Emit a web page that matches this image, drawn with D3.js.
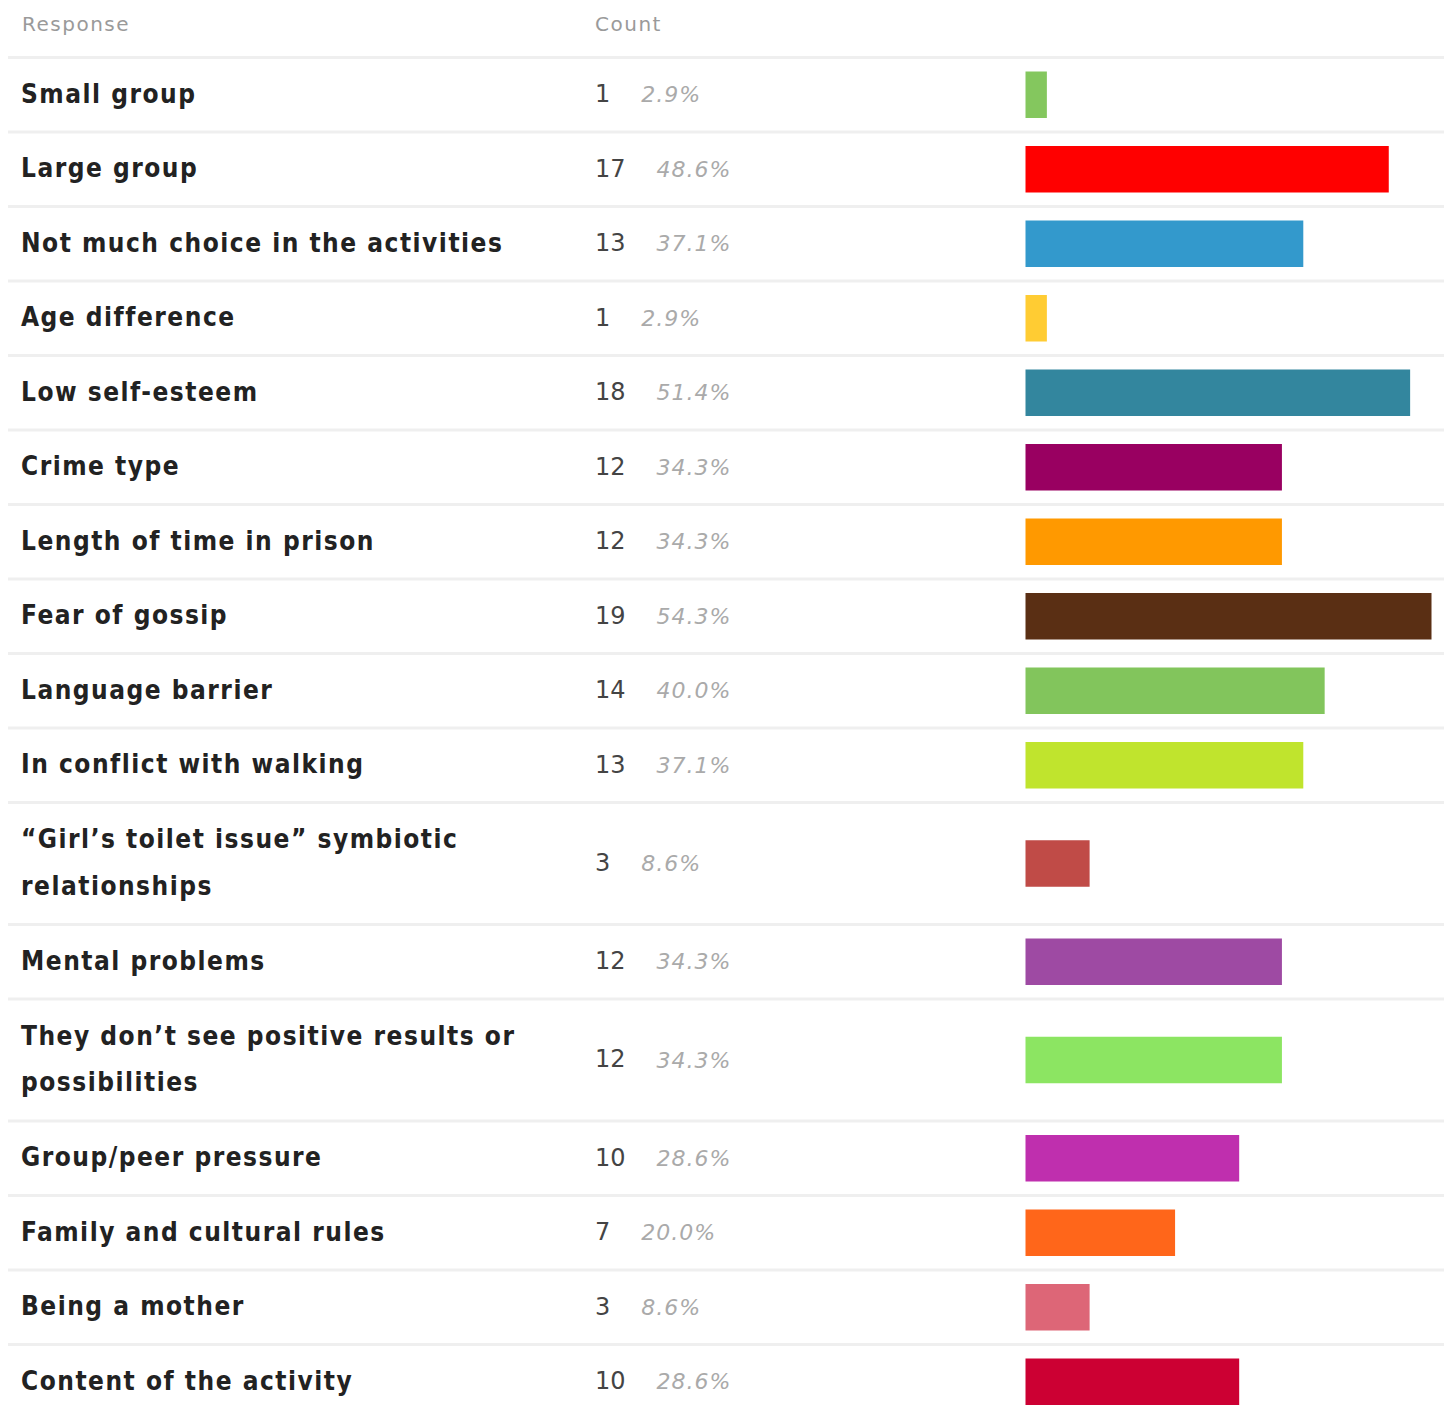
<!DOCTYPE html>
<html><head><meta charset="utf-8">
<script src="https://cdn.jsdelivr.net/npm/d3@7"></script>
<style>body{margin:0;background:#fff;} svg{display:block}</style>
</head><body><svg id="c"></svg>
<script>
const headers = ["Response", "Count"];
const labels = [
  "Small group",
  "Large group",
  "Not much choice in the activities",
  "Age difference",
  "Low self-esteem",
  "Crime type",
  "Length of time in prison",
  "Fear of gossip",
  "Language barrier",
  "In conflict with walking",
  "\u201cGirl\u2019s toilet issue\u201d symbiotic relationships",
  "Mental problems",
  "They don\u2019t see positive results or possibilities",
  "Group/peer pressure",
  "Family and cultural rules",
  "Being a mother",
  "Content of the activity"
];
const counts = [1, 17, 13, 1, 18, 12, 12, 19, 14, 13, 3, 12, 12, 10, 7, 3, 10];
const percents = ["2.9%", "48.6%", "37.1%", "2.9%", "51.4%", "34.3%", "34.3%", "54.3%", "40.0%", "37.1%", "8.6%", "34.3%", "34.3%", "28.6%", "20.0%", "8.6%", "28.6%"];
const colors = ["#84c75e", "#ff0000", "#3399cc", "#ffcc33", "#33869e", "#990061", "#ff9900", "#5a2f14", "#82c55c", "#c0e42d", "#c04b47", "#9e4aa3", "#8ce562", "#bf2fae", "#ff661a", "#dd6677", "#cc0033"];

const W = 1447, H = 1420;
const svg = d3.select("#c").attr("width", W).attr("height", H);

const labelX = 21, countX = 595, lineLeft = 8, lineRight = 1444;
const top0 = 57.5, rowH = 74.5, lineStep = 47.5, wrapW = 555;
const labFont = "'DejaVu Sans Condensed', 'DejaVu Sans', sans-serif";

// header
const hdr = d3.scaleOrdinal().domain(headers).range([labelX + 1, countX]);
svg.selectAll("text.hdr").data(headers).join("text")
  .attr("class", "hdr")
  .attr("x", d => hdr(d)).attr("y", 24).attr("dy", "0.35em")
  .attr("font-family", "'DejaVu Sans', sans-serif")
  .attr("font-size", 20).attr("letter-spacing", 1.5)
  .attr("fill", "#9a9a9a").text(d => d);

// labels with wrapping
const lab = svg.append("g");
const styleLab = t => t.attr("font-family", labFont)
  .attr("font-weight", "bold").attr("font-size", 26).attr("letter-spacing", 1.5);
const lines = labels.map(l => {
  const t = styleLab(lab.append("text"));
  const words = l.split(" ");
  const out = [];
  let cur = [];
  words.forEach(w => {
    const test = cur.concat([w]).join(" ");
    t.text(test);
    if (t.node().getComputedTextLength() > wrapW && cur.length) {
      out.push(cur.join(" "));
      cur = [w];
    } else cur.push(w);
  });
  if (cur.length) out.push(cur.join(" "));
  t.remove();
  return out;
});

const heights = lines.map(ls => rowH + lineStep * (ls.length - 1));
const bounds = [top0];
heights.forEach(h => bounds.push(bounds[bounds.length - 1] + h));
const yc = d3.scaleOrdinal().domain(labels).range(labels.map((d, i) => (bounds[i] + bounds[i + 1]) / 2));

// separators
svg.selectAll("line.sep").data(bounds).join("line")
  .attr("class", "sep")
  .attr("x1", lineLeft).attr("x2", lineRight)
  .attr("y1", d => d).attr("y2", d => d)
  .attr("stroke", "#efefef").attr("stroke-width", 3);

// label text
labels.forEach((l, i) => {
  const ls = lines[i];
  const t = styleLab(lab.append("text")).attr("fill", "#222");
  ls.forEach((s, j) => {
    t.append("tspan").attr("x", labelX)
      .attr("y", yc(l) - 1 + (j - (ls.length - 1) / 2) * 46.5)
      .attr("dy", "0.35em").text(s);
  });
});

// counts & percents
const cg = svg.append("g");
labels.forEach((l, i) => {
  const c = cg.append("text")
    .attr("x", countX).attr("y", yc(l) - 1).attr("dy", "0.35em")
    .attr("font-family", "'DejaVu Sans', sans-serif")
    .attr("font-size", 24).attr("fill", "#444").text(counts[i]);
  const cw = c.node().getComputedTextLength();
  cg.append("text")
    .attr("x", countX + cw + 31).attr("y", yc(l)).attr("dy", "0.35em")
    .attr("font-family", "'DejaVu Sans', sans-serif")
    .attr("font-style", "italic").attr("letter-spacing", 1)
    .attr("font-size", 22).attr("fill", "#aaa").text(percents[i]);
});

// bars
const x = d3.scaleLinear().domain([0, d3.max(counts)]).range([1025.5, 1431.5]);
const barH = 46.5;
svg.append("g").selectAll("rect").data(labels).join("rect")
  .attr("x", x(0))
  .attr("y", d => yc(d) - barH / 2)
  .attr("width", (d, i) => x(counts[i]) - x(0))
  .attr("height", barH)
  .attr("fill", (d, i) => colors[i]);
</script>
</body></html>
